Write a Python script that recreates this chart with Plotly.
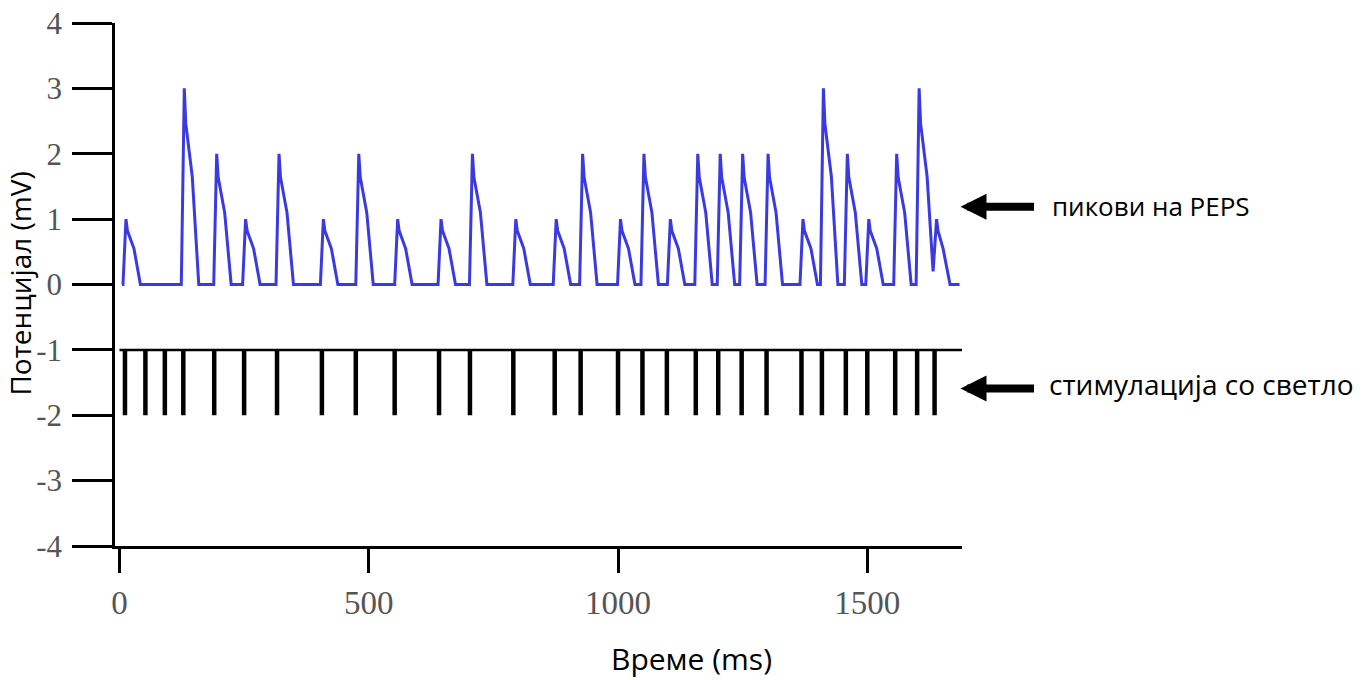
import plotly.graph_objects as go

# Blue PEPS trace (time in ms, potential in mV)
peps_t = [5, 7, 13, 16, 29, 42,
          124, 130, 133, 146, 159,
          189, 195, 198, 211, 224,
          247, 253, 256, 269, 282,
          314, 320, 323, 336, 349,
          403, 409, 412, 425, 438,
          474, 480, 483, 496, 509,
          552, 558, 561, 574, 587,
          639, 645, 648, 661, 674,
          702, 708, 711, 724, 737,
          789, 795, 798, 811, 824,
          870, 876, 879, 892, 905,
          923, 929, 932, 945, 958,
          999, 1005, 1008, 1021, 1034,
          1046, 1052, 1055, 1068, 1081,
          1099, 1105, 1108, 1121, 1134,
          1154, 1160, 1163, 1176, 1189,
          1199, 1205, 1208, 1221, 1234,
          1244, 1250, 1253, 1266, 1279,
          1295, 1301, 1304, 1317, 1330,
          1365, 1371, 1374, 1387, 1400,
          1406, 1412, 1415, 1428, 1441,
          1454, 1460, 1463, 1476, 1489,
          1497, 1503, 1506, 1519, 1532,
          1553, 1559, 1562, 1575, 1588,
          1598, 1604, 1607, 1620, 1632,
          1639, 1642, 1652, 1666, 1685]
peps_v = [0, 0, 1, 0.82, 0.55, 0,
          0, 3, 2.46, 1.65, 0,
          0, 2, 1.64, 1.1, 0,
          0, 1, 0.82, 0.55, 0,
          0, 2, 1.64, 1.1, 0,
          0, 1, 0.82, 0.55, 0,
          0, 2, 1.64, 1.1, 0,
          0, 1, 0.82, 0.55, 0,
          0, 1, 0.82, 0.55, 0,
          0, 2, 1.64, 1.1, 0,
          0, 1, 0.82, 0.55, 0,
          0, 1, 0.82, 0.55, 0,
          0, 2, 1.64, 1.1, 0,
          0, 1, 0.82, 0.55, 0,
          0, 2, 1.64, 1.1, 0,
          0, 1, 0.82, 0.55, 0,
          0, 2, 1.64, 1.1, 0,
          0, 2, 1.64, 1.1, 0,
          0, 2, 1.64, 1.1, 0,
          0, 2, 1.64, 1.1, 0,
          0, 1, 0.82, 0.55, 0,
          0, 3, 2.46, 1.65, 0,
          0, 2, 1.64, 1.1, 0,
          0, 1, 0.82, 0.55, 0,
          0, 2, 1.64, 1.1, 0,
          0, 3, 2.46, 1.65, 0.2,
          1, 0.82, 0.55, 0, 0]

# Light stimulation times (ms)
stim_times = [11, 52, 91, 128, 190, 250, 316, 406, 474, 552, 641, 703, 790,
              873, 925, 1000, 1049, 1098, 1156, 1201, 1248, 1298, 1368, 1409,
              1457, 1500, 1556, 1600, 1635]
stim_top = -1
stim_bottom = -2
stim_baseline_t = [0, 1690]

y_ticks = [-4, -3, -2, -1, 0, 1, 2, 3, 4]
y_ticktext = ["-4", "-3", "-2", "-1", "0", "1", "2", "3", "4"]
x_ticks = [0, 500, 1000, 1500]
x_ticktext = ["0", "500", "1000", "1500"]

label_peps = "пикови на PEPS"
label_stim = "стимулација со светло"
x_title = "Време (ms)"
y_title = "Потенцијал (mV)"

fig = go.Figure()

fig.add_trace(go.Scatter(x=peps_t, y=peps_v, mode="lines",
                         line=dict(color="#3a3ae0", width=3),
                         hoverinfo="skip", showlegend=False))

sx, sy = [], []
for t in stim_times:
    sx += [t, t, None]
    sy += [stim_top, stim_bottom, None]
fig.add_trace(go.Scatter(x=sx, y=sy, mode="lines",
                         line=dict(color="black", width=4.5),
                         hoverinfo="skip", showlegend=False))
fig.add_trace(go.Scatter(x=stim_baseline_t, y=[stim_top, stim_top], mode="lines",
                         line=dict(color="black", width=2.5),
                         hoverinfo="skip", showlegend=False))

serif = "Liberation Serif"
sans = "Open Sans"

fig.update_layout(
    width=1372, height=680,
    margin=dict(l=115, r=410, t=23, b=134, autoexpand=False),
    paper_bgcolor="white", plot_bgcolor="white",
    xaxis=dict(range=[-9, 1690], showgrid=False, zeroline=False, automargin=False,
               showline=True, linecolor="black", linewidth=2.5,
               ticks="outside", ticklen=24, tickwidth=2.5, tickcolor="black",
               tickvals=x_ticks, ticktext=x_ticktext,
               tickfont=dict(family=serif, size=33, color="#555"),
               ticklabelstandoff=2),
    yaxis=dict(range=[-4, 4], showgrid=False, zeroline=False, automargin=False,
               showline=True, linecolor="black", linewidth=2.5,
               ticks="outside", ticklen=40, tickwidth=2.5, tickcolor="black",
               tickvals=y_ticks, ticktext=y_ticktext,
               tickfont=dict(family=serif, size=31, color="#555"),
               ticklabelstandoff=4),
    annotations=[
        dict(text=x_title, xref="paper", yref="paper", x=0.681, y=-0.215,
             xanchor="center", yanchor="middle", showarrow=False,
             font=dict(family=sans, size=30, color="black")),
        dict(text=y_title, xref="paper", yref="paper", x=-0.112, y=0.502,
             xanchor="center", yanchor="middle", showarrow=False, textangle=-90,
             font=dict(family=sans, size=28, color="black")),
        dict(text="", x=1687, y=1.19, xref="x", yref="y", showarrow=True,
             ax=75, ay=0, arrowhead=2, arrowsize=0.65, arrowwidth=8,
             arrowcolor="black"),
        dict(text="", x=1687, y=-1.59, xref="x", yref="y", showarrow=True,
             ax=75, ay=0, arrowhead=2, arrowsize=0.65, arrowwidth=8,
             arrowcolor="black"),
        dict(text=label_peps, x=1.104, y=0.651, xref="paper", yref="paper",
             xanchor="left", yanchor="middle", showarrow=False,
             font=dict(family=sans, size=26, color="black")),
        dict(text=label_stim, x=1.100, y=0.3105, xref="paper", yref="paper",
             xanchor="left", yanchor="middle", showarrow=False,
             font=dict(family=sans, size=28, color="black")),
    ],
)

fig.write_html("out.html")
